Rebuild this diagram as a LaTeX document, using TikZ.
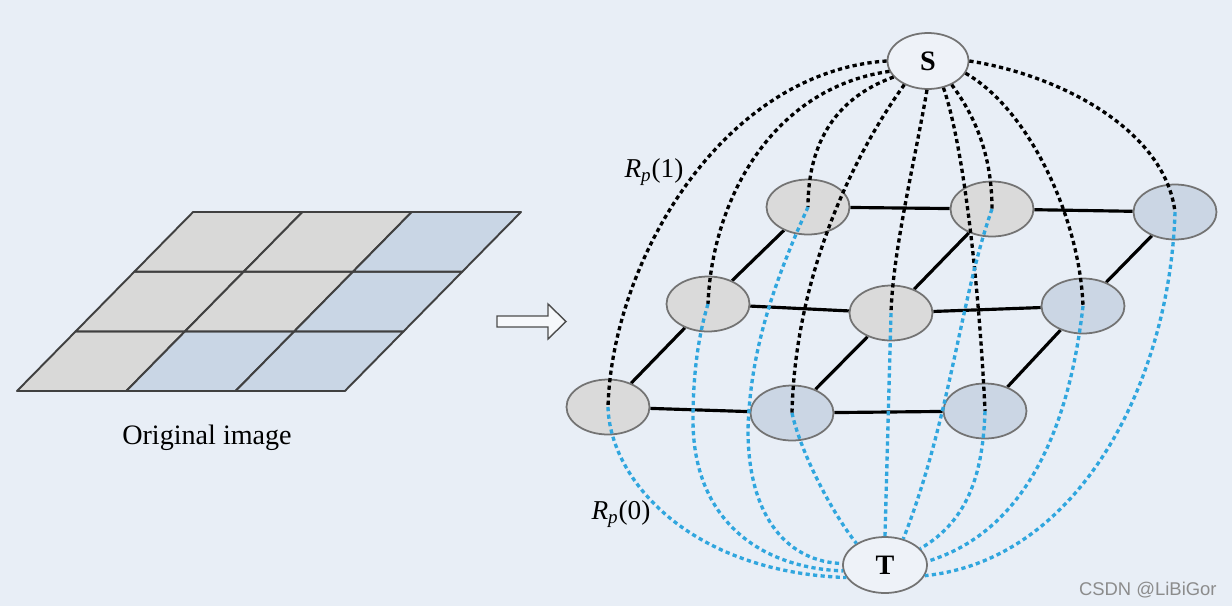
\documentclass[tikz,border=0pt]{standalone}
\usepackage{fontspec}
\setmainfont{Liberation Serif}
\newfontfamily\wmfont{Liberation Sans}
\usetikzlibrary{shapes.geometric}
\definecolor{bgc}{RGB}{232,238,246}
\definecolor{cellgray}{RGB}{217,217,216}
\definecolor{cellblue}{RGB}{201,214,229}
\definecolor{nodegray}{RGB}{218,218,218}
\definecolor{nodeblue}{RGB}{203,214,228}
\definecolor{stfill}{RGB}{238,242,248}
\definecolor{bordergray}{RGB}{115,115,115}
\definecolor{cyanline}{RGB}{48,166,222}
\pgfdeclarelayer{edges}
\pgfsetlayers{edges,main}
\begin{document}
\begin{tikzpicture}[x=0.02cm,y=-0.02cm,
  pix/.style={ellipse, draw=bordergray, line width=1pt, minimum width=1.66cm, minimum height=1.1cm, inner sep=0pt},
  gnode/.style={pix, fill=nodegray},
  bnode/.style={pix, fill=nodeblue},
  stnode/.style={pix, fill=stfill, minimum width=1.62cm, minimum height=1.12cm, font=\fontsize{16}{16}\selectfont\bfseries},
  edge/.style={line width=1.8pt, black},
  up/.style={line width=1.9pt, black, dash pattern=on 2.4pt off 1.9pt},
  down/.style={line width=1.9pt, cyanline, dash pattern=on 2.4pt off 1.9pt},
  cell/.style={draw=black!75, line width=1.1pt, line join=round},
  lbl/.style={font=\fontsize{15.5}{15.5}\selectfont, inner sep=0pt}
]
\begin{pgfonlayer}{edges}
\fill[bgc] (0,0) rectangle (1232,606);
\end{pgfonlayer}
\useasboundingbox (0,0) rectangle (1232,606);

% left grid
\foreach \c/\r/\col in {0/0/cellgray,1/0/cellblue,2/0/cellblue,0/1/cellgray,1/1/cellgray,2/1/cellblue,0/2/cellgray,1/2/cellgray,2/2/cellblue}
  \filldraw[cell, fill=\col] ({17+109.3*\c+58.7*\r},{391-59.67*\r}) -- ++(109.3,0) -- ++(58.7,-59.67) -- ++(-109.3,0) -- cycle;
\node[font=\fontsize{16}{19}\selectfont] (cap) at (207,438) {Original image};

% arrow
\draw[line width=0.8pt, draw=black!70, fill=bgc!40!white, line join=miter]
  (497,316) -- (548,316) -- (548,304) -- (566,321.5) -- (548,339) -- (548,327) -- (497,327) -- cycle;

% graph nodes
\node[gnode] (TL) at (808,207) {};
\node[gnode] (TM) at (992,209) {};
\node[bnode] (TR) at (1175,212) {};
\node[gnode] (ML) at (708,304) {};
\node[gnode] (MM) at (891,313) {};
\node[bnode] (MR) at (1083,306) {};
\node[gnode] (BL) at (608,407) {};
\node[bnode] (BM) at (792,413) {};
\node[bnode] (BR) at (985,411) {};
\node[stnode] (S) at (928,61) {S};
\node[stnode, minimum width=1.68cm] (T) at (885,565) {T};

\begin{pgfonlayer}{edges}
\draw[edge] (TL) -- (TM) -- (TR);
\draw[edge] (ML) -- (MM) -- (MR);
\draw[edge] (BL) -- (BM) -- (BR);
\draw[edge] (BL) -- (ML) -- (TL);
\draw[edge] (BM) -- (MM) -- (TM);
\draw[edge] (BR) -- (MR) -- (TR);
\end{pgfonlayer}

% black dashed from S
\draw[up] (S.180) .. controls (722,72) and (612,262) .. (BL.center);
\draw[up] (S.195) .. controls (772,88) and (712,200) .. (ML.center);
\draw[up] (S.205) .. controls (830,100) and (808,150) .. (TL.center);
\draw[up] (S.225) .. controls (850,160) and (795,280) .. (BM.center);
\draw[up] (S.268) .. controls (915,160) and (893,250) .. (MM.center);
\draw[up] (S.300) .. controls (965,150) and (980,300) .. (BR.center);
\draw[up] (S.315) .. controls (978,120) and (992,160) .. (TM.center);
\draw[up] (S.342) .. controls (1030,110) and (1080,220) .. (MR.center);
\draw[up] (S.0) .. controls (1060,75) and (1165,130) .. (TR.center);

% blue dashed to T
\draw[down] (BL.center) .. controls (610,480) and (690,572) .. (T.198);
\draw[down] (ML.center) .. controls (697,340) and (693,380) .. (693,420) .. controls (693,520) and (760,568) .. (T.188);
\draw[down] (TL.center) .. controls (775,280) and (750,350) .. (748,430) .. controls (748,520) and (790,562) .. (T.178);
\draw[down] (BM.center) .. controls (800,450) and (830,510) .. (T.143);
\draw[down] (MM.center) -- (T.north);
\draw[down] (TM.center) .. controls (960,300) and (950,420) .. (T.55);
\draw[down] (BR.center) .. controls (983,470) and (970,520) .. (T.25);
\draw[down] (MR.center) .. controls (1070,420) and (1030,530) .. (T.5);
\draw[down] (TR.center) .. controls (1170,380) and (1080,560) .. (T.345);

% labels
\node[lbl] (r1) at (654,172) {\textit{R}\textsubscript{\textit{p}}(1)};
\node[lbl] (r0) at (621,514) {\textit{R}\textsubscript{\textit{p}}(0)};
\node[font=\wmfont\fontsize{10.5}{12}\selectfont, text=black!45, anchor=east, inner sep=0pt] (wm) at (1217,590) {CSDN @LiBiGor};
\end{tikzpicture}
\end{document}
